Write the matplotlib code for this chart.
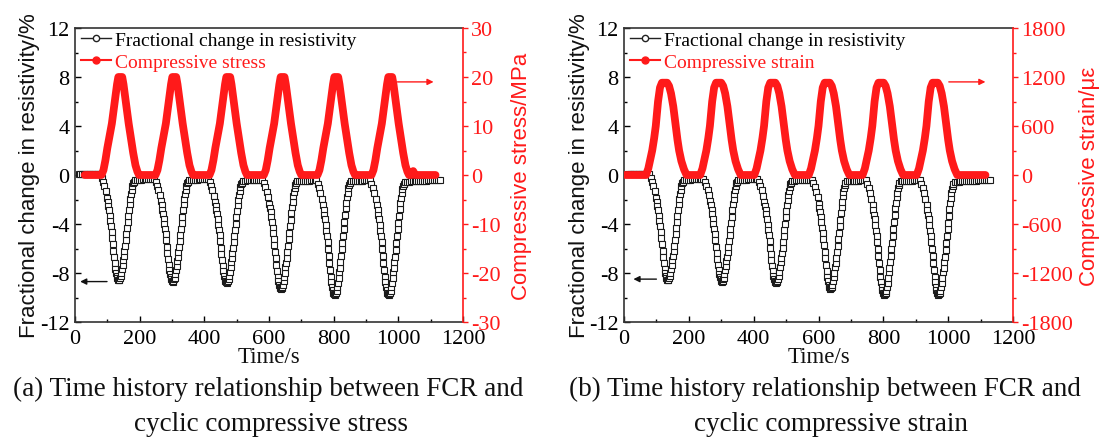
import matplotlib
matplotlib.use("Agg")
import matplotlib.pyplot as plt
from matplotlib.lines import Line2D
from matplotlib.ticker import MultipleLocator

plt.rcParams['font.family'] = ['Liberation Serif', 'DejaVu Serif']
plt.rcParams['axes.unicode_minus'] = False

# ---------------- data ----------------
# Fractional change in resistivity (%), same record in both panels
fcr_t_start = [12, 17, 22, 27, 32, 37, 42, 47, 52, 57, 62, 67, 72]
fcr_v_start = [0.10, 0.12, 0.10, 0.08, 0.10, 0.11, 0.12, 0.10, 0.08, 0.10, 0.09, 0.07, 0.06]

fcr_t_c1 = [77, 82, 87, 91, 95, 99, 101, 103, 105, 107, 109, 111, 113, 115, 117, 119, 121, 123, 125, 127, 129, 131, 133, 135,
            137, 139, 141, 143, 145, 147, 149, 151, 153, 155, 157, 159, 161, 163, 165, 167, 169, 171, 173, 175, 177, 179, 181, 185,
            191, 197, 203, 209, 215, 221, 227, 233, 239]
fcr_v_c1 = [0.05, -0.21, -0.56, -0.90, -1.33, -1.85, -2.20, -2.55, -2.89, -3.32, -3.76, -4.19, -4.62, -5.14, -5.66, -6.18,
            -6.70, -7.22, -7.65, -7.99, -8.25, -8.43, -8.56, -8.60,
            -8.56, -8.44, -8.27, -8.03, -7.70, -7.37, -6.96, -6.63, -6.22, -5.81, -5.32, -4.83, -4.34, -3.84, -3.35, -2.86,
            -2.37, -1.96, -1.55, -1.22, -0.89, -0.69, -0.56, -0.40,
            -0.40, -0.38, -0.37, -0.36, -0.35, -0.34, -0.33, -0.32, -0.31]

fcr_t_c2 = [244, 249, 254, 258, 262, 266, 268, 270, 272, 274, 276, 278, 280, 282, 284, 286, 288, 290, 292, 294, 296, 298, 300, 302,
            304, 306, 308, 310, 312, 314, 316, 318, 320, 322, 324, 326, 328, 330, 332, 334, 336, 338, 340, 342, 344, 346, 348, 352,
            358, 364, 370, 376, 382, 388, 394, 400, 406]
fcr_v_c2 = [-0.30, -0.55, -0.89, -1.22, -1.64, -2.15, -2.48, -2.82, -3.16, -3.58, -4.00, -4.42, -4.84, -5.34, -5.84, -6.35,
            -6.85, -7.36, -7.78, -8.11, -8.36, -8.53, -8.66, -8.70,
            -8.66, -8.53, -8.37, -8.12, -7.79, -7.46, -7.04, -6.71, -6.29, -5.88, -5.38, -4.88, -4.38, -3.89, -3.39, -2.89,
            -2.39, -1.98, -1.56, -1.23, -0.90, -0.69, -0.57, -0.40,
            -0.40, -0.39, -0.38, -0.37, -0.36, -0.35, -0.35, -0.34, -0.33]

fcr_t_c3 = [411, 416, 421, 425, 429, 433, 435, 437, 439, 441, 443, 445, 447, 449, 451, 453, 455, 457, 459, 461, 463, 465, 467, 469,
            471, 473, 475, 477, 479, 481, 483, 485, 487, 489, 491, 493, 495, 497, 499, 501, 503, 505, 507, 509, 511, 513, 515, 519,
            525, 531, 537, 543, 549, 555, 561, 567, 573]
fcr_v_c3 = [-0.33, -0.58, -0.92, -1.26, -1.69, -2.19, -2.53, -2.87, -3.21, -3.63, -4.06, -4.48, -4.90, -5.41, -5.92, -6.43,
            -6.94, -7.44, -7.87, -8.21, -8.46, -8.63, -8.76, -8.80,
            -8.76, -8.63, -8.47, -8.22, -7.88, -7.55, -7.13, -6.80, -6.38, -5.96, -5.46, -4.96, -4.46, -3.96, -3.46, -2.96,
            -2.45, -2.04, -1.62, -1.29, -0.95, -0.74, -0.62, -0.45,
            -0.45, -0.44, -0.43, -0.42, -0.41, -0.40, -0.40, -0.39, -0.38]

fcr_t_c4 = [579, 584, 589, 593, 597, 601, 603, 605, 607, 609, 611, 613, 615, 617, 619, 621, 623, 625, 627, 629, 631, 633, 635, 637,
            639, 641, 643, 645, 647, 649, 651, 653, 655, 657, 659, 661, 663, 665, 667, 669, 671, 673, 675, 677, 679, 681, 683, 687,
            693, 699, 705, 711, 717, 723, 729, 735, 741]
fcr_v_c4 = [-0.38, -0.65, -1.00, -1.36, -1.81, -2.34, -2.70, -3.06, -3.41, -3.86, -4.30, -4.75, -5.20, -5.73, -6.27, -6.80,
            -7.34, -7.87, -8.32, -8.68, -8.94, -9.12, -9.25, -9.30,
            -9.26, -9.12, -8.95, -8.68, -8.33, -7.98, -7.54, -7.19, -6.75, -6.31, -5.78, -5.25, -4.72, -4.20, -3.67, -3.14,
            -2.61, -2.17, -1.73, -1.38, -1.03, -0.81, -0.68, -0.50,
            -0.50, -0.49, -0.48, -0.47, -0.46, -0.45, -0.44, -0.43, -0.42]

fcr_t_c5 = [745, 750, 755, 759, 763, 767, 769, 771, 773, 775, 777, 779, 781, 783, 785, 787, 789, 791, 793, 795, 797, 799, 801, 803,
            805, 807, 809, 811, 813, 815, 817, 819, 821, 823, 825, 827, 829, 831, 833, 835, 837, 839, 841, 843, 845, 847, 849, 853,
            859, 865, 871, 877, 883, 889, 895, 901, 907]
fcr_v_c5 = [-0.42, -0.70, -1.08, -1.45, -1.92, -2.48, -2.86, -3.23, -3.61, -4.08, -4.55, -5.02, -5.49, -6.05, -6.61, -7.17,
            -7.74, -8.30, -8.77, -9.14, -9.42, -9.61, -9.75, -9.80,
            -9.75, -9.61, -9.43, -9.15, -8.78, -8.41, -7.94, -7.57, -7.10, -6.64, -6.08, -5.52, -4.96, -4.41, -3.85, -3.29,
            -2.73, -2.27, -1.80, -1.43, -1.06, -0.83, -0.69, -0.50,
            -0.50, -0.49, -0.48, -0.47, -0.46, -0.45, -0.44, -0.43, -0.42]

fcr_t_c6 = [912, 917, 922, 926, 930, 934, 936, 938, 940, 942, 944, 946, 948, 950, 952, 954, 956, 958, 960, 962, 964, 966, 968, 970,
            972, 974, 976, 978, 980, 982, 984, 986, 988, 990, 992, 994, 996, 998, 1000, 1002, 1004, 1006, 1008, 1010, 1012, 1014,
            1016, 1020,
            1026, 1032, 1038, 1044, 1050, 1056, 1062, 1068, 1074, 1080, 1086, 1092, 1098, 1104, 1110, 1116, 1122, 1128]
fcr_v_c6 = [-0.42, -0.70, -1.08, -1.45, -1.92, -2.48, -2.86, -3.23, -3.61, -4.08, -4.55, -5.02, -5.49, -6.05, -6.61, -7.17,
            -7.74, -8.30, -8.77, -9.14, -9.42, -9.61, -9.75, -9.80,
            -9.75, -9.62, -9.43, -9.15, -8.78, -8.41, -7.95, -7.58, -7.12, -6.66, -6.10, -5.55, -4.99, -4.44, -3.88, -3.33,
            -2.77, -2.31, -1.85, -1.48, -1.11, -0.87, -0.74, -0.55,
            -0.55, -0.54, -0.53, -0.52, -0.51, -0.50, -0.49, -0.48, -0.47, -0.46, -0.45, -0.44, -0.43, -0.42, -0.41, -0.40,
            -0.39, -0.38]

fcr_time = fcr_t_start + fcr_t_c1 + fcr_t_c2 + fcr_t_c3 + fcr_t_c4 + fcr_t_c5 + fcr_t_c6
fcr_value = fcr_v_start + fcr_v_c1 + fcr_v_c2 + fcr_v_c3 + fcr_v_c4 + fcr_v_c5 + fcr_v_c6

# Compressive stress (MPa), panel (a)
stress_time = [30,
               82, 88, 94, 100, 107, 114, 122, 130, 134, 146, 150, 158, 166, 173, 180, 187, 193, 198,
               249, 255, 261, 267, 274, 281, 289, 297, 301, 313, 317, 325, 333, 340, 347, 354, 360, 365,
               416, 422, 428, 434, 441, 448, 456, 464, 468, 480, 484, 492, 500, 507, 514, 521, 527, 532,
               584, 590, 596, 602, 609, 616, 624, 632, 636, 648, 652, 660, 668, 675, 682, 689, 695, 700,
               750, 756, 762, 768, 775, 782, 790, 798, 802, 814, 818, 826, 834, 841, 848, 855, 861, 866,
               917, 923, 929, 935, 942, 949, 957, 965, 969, 981, 985, 993, 1001, 1008, 1015, 1022, 1028, 1033,
               1040, 1046, 1052, 1115]
stress_value = [0,
                0, 1, 3, 5.5, 8, 10.5, 14.5, 18.5, 20, 20, 18.5, 14.5, 10.5, 7.5, 4.5, 2, 0.7, 0,
                0, 1, 3, 5.5, 8, 10.5, 14.5, 18.5, 20, 20, 18.5, 14.5, 10.5, 7.5, 4.5, 2, 0.7, 0,
                0, 1, 3, 5.5, 8, 10.5, 14.5, 18.5, 20, 20, 18.5, 14.5, 10.5, 7.5, 4.5, 2, 0.7, 0,
                0, 1, 3, 5.5, 8, 10.5, 14.5, 18.5, 20, 20, 18.5, 14.5, 10.5, 7.5, 4.5, 2, 0.7, 0,
                0, 1, 3, 5.5, 8, 10.5, 14.5, 18.5, 20, 20, 18.5, 14.5, 10.5, 7.5, 4.5, 2, 0.7, 0,
                0, 1, 3, 5.5, 8, 10.5, 14.5, 18.5, 20, 20, 18.5, 14.5, 10.5, 7.5, 4.5, 2, 0.7, 0,
                0, 0.8, 0, 0]

# Compressive strain (micro-strain), panel (b)
strain_time = [5,
               68, 75, 81, 87, 93, 98, 105, 111, 117, 133, 139, 145, 152, 159, 165, 170, 177, 185, 193,
               235, 242, 248, 254, 260, 265, 272, 278, 284, 300, 306, 312, 319, 326, 332, 337, 344, 352, 360,
               402, 409, 415, 421, 427, 432, 439, 445, 451, 467, 473, 479, 486, 493, 499, 504, 511, 519, 527,
               570, 577, 583, 589, 595, 600, 607, 613, 619, 635, 641, 647, 654, 661, 667, 672, 679, 687, 695,
               736, 743, 749, 755, 761, 766, 773, 779, 785, 801, 807, 813, 820, 827, 833, 838, 845, 853, 861,
               903, 910, 916, 922, 928, 933, 940, 946, 952, 968, 974, 980, 987, 994, 1000, 1005, 1012, 1020, 1028,
               1115]
strain_value = [0,
                0, 80, 190, 300, 450, 600, 900, 1070, 1130, 1130, 1090, 1000, 840, 620, 430, 300, 170, 70, 0,
                0, 80, 190, 300, 450, 600, 900, 1070, 1130, 1130, 1090, 1000, 840, 620, 430, 300, 170, 70, 0,
                0, 80, 190, 300, 450, 600, 900, 1070, 1130, 1130, 1090, 1000, 840, 620, 430, 300, 170, 70, 0,
                0, 80, 190, 300, 450, 600, 900, 1070, 1130, 1130, 1090, 1000, 840, 620, 430, 300, 170, 70, 0,
                0, 80, 190, 300, 450, 600, 900, 1070, 1130, 1130, 1090, 1000, 840, 620, 430, 300, 170, 70, 0,
                0, 80, 190, 300, 450, 600, 900, 1070, 1130, 1130, 1090, 1000, 840, 620, 430, 300, 170, 70, 0,
                0]

x_ticks = [0, 200, 400, 600, 800, 1000, 1200]
fcr_ticks = [-12, -8, -4, 0, 4, 8, 12]
stress_ticks = [-30, -20, -10, 0, 10, 20, 30]
strain_ticks = [-1800, -1200, -600, 0, 600, 1200, 1800]

# ---------------- figure ----------------
W, H = 1103, 439
fig = plt.figure(figsize=(W / 100, H / 100), dpi=100)

RED = '#ff1a1a'
SERIF = ['Liberation Serif', 'DejaVu Serif']
SANS = ['Liberation Sans', 'DejaVu Sans']


def px_axes(x0, x1, y0, y1):
    return fig.add_axes([x0 / W, 1 - y1 / H, (x1 - x0) / W, (y1 - y0) / H])


def panel(x0, x1, red_t, red_v, red_ticks, red_name, red_label, black_arrow, red_arrow,
          label_x, cap1, cap2, cap1_x, cap2_x):
    ax = px_axes(x0, x1, 29, 323)
    ax.plot(fcr_time, fcr_value, color='#333333', lw=0.9, marker='s', ms=4.0,
            mfc='white', mec='#1a1a1a', mew=0.8, zorder=2)
    ax.set_xlim(0, 1200)
    ax.set_ylim(-12, 12)
    ax.set_xticks(x_ticks)
    ax.set_yticks(fcr_ticks)
    ax.xaxis.set_minor_locator(MultipleLocator(100))
    ax.yaxis.set_minor_locator(MultipleLocator(2))
    ax.tick_params(which='both', direction='in', top=False, right=False, labelsize=16, width=1.0)
    ax.tick_params(which='major', length=4.5)
    ax.tick_params(which='minor', length=2.5)
    ax.tick_params(axis='x', pad=5)
    ax.tick_params(axis='y', pad=4)
    for s in ['left', 'top', 'bottom']:
        ax.spines[s].set_linewidth(1.2)
        ax.spines[s].set_color('#333333')
    ax.spines['right'].set_visible(False)
    ax.annotate('', xy=(black_arrow[1], black_arrow[2]), xytext=(black_arrow[0], black_arrow[2]),
                arrowprops=dict(arrowstyle='-|>', color='#111111', lw=1.0, mutation_scale=9,
                                shrinkA=0, shrinkB=0))

    ax2 = ax.twinx()
    ax2.plot(red_t, red_v, color=RED, lw=5.6, solid_joinstyle='round',
             solid_capstyle='round', zorder=3)
    ax2.set_ylim(red_ticks[0], red_ticks[-1])
    ax2.set_yticks(red_ticks)
    ax2.yaxis.set_minor_locator(MultipleLocator((red_ticks[1] - red_ticks[0]) / 2))
    ax2.tick_params(axis='y', which='both', direction='out', colors=RED, labelsize=16, width=1.0, pad=2)
    ax2.tick_params(axis='y', which='major', length=3.5)
    ax2.tick_params(axis='y', which='minor', length=2)
    for s in ['left', 'top', 'bottom']:
        ax2.spines[s].set_visible(False)
    ax2.spines['right'].set_color(RED)
    ax2.spines['right'].set_linewidth(1.2)
    ax2.annotate('', xy=(red_arrow[1], red_arrow[2]), xytext=(red_arrow[0], red_arrow[2]),
                 arrowprops=dict(arrowstyle='-|>', color=RED, lw=1.0, mutation_scale=9,
                                 shrinkA=0, shrinkB=0))

    h1 = Line2D([], [], color='#222222', lw=1.0, marker='o', ms=4.5, mfc='white', mec='#222222')
    h2 = Line2D([], [], color=RED, lw=1.5, marker='o', ms=5, mfc=RED, mec=RED)
    leg = ax2.legend([h1, h2], ['Fractional change in resistivity', red_name],
                     loc='upper left', bbox_to_anchor=(0.016, 0.99), frameon=False,
                     prop={'family': SERIF, 'size': 14}, handlelength=1.55, handletextpad=0.2,
                     labelspacing=0.25, borderpad=0, borderaxespad=0)
    leg.get_texts()[1].set_color(RED)

    # axis labels
    fig.text(x0 / W - 45 / W, 1 - 176 / H, 'Fractional change in resistivity/%', rotation=90,
             ha='center', va='center', family=SANS, fontsize=16, color='#111111')
    fig.text(label_x / W, 1 - 176 / H, red_label, rotation=90, ha='center', va='center',
             family=SANS, fontsize=16, color=RED)
    fig.text((x0 + x1) / 2 / W, 1 - 358 / H, 'Time/s', ha='center', va='center',
             family=SERIF, fontsize=16.5, color='#111111')
    fig.text(cap1_x / W, 1 - 396 / H, cap1, ha='center', va='baseline', family=SERIF,
             fontsize=19.5, color='#111111')
    fig.text(cap2_x / W, 1 - 431 / H, cap2, ha='center', va='baseline', family=SERIF,
             fontsize=19.5, color='#111111')
    return ax, ax2


panel(75, 463, stress_time, stress_value, stress_ticks, 'Compressive stress',
      'Compressive stress/MPa', (99, 16, -8.7), (997, 1109, 19.0), 522,
      '(a) Time history relationship between FCR and', 'cyclic compressive stress', 268, 271)
panel(624, 1013, strain_time, strain_value, strain_ticks, 'Compressive strain',
      'Compressive strain/\u03bc\u03b5', (100, 29, -8.5), (1002, 1115, 1140), 1090,
      '(b) Time history relationship between FCR and', 'cyclic compressive strain', 825, 831)

fig.savefig('out.png', dpi=100)
